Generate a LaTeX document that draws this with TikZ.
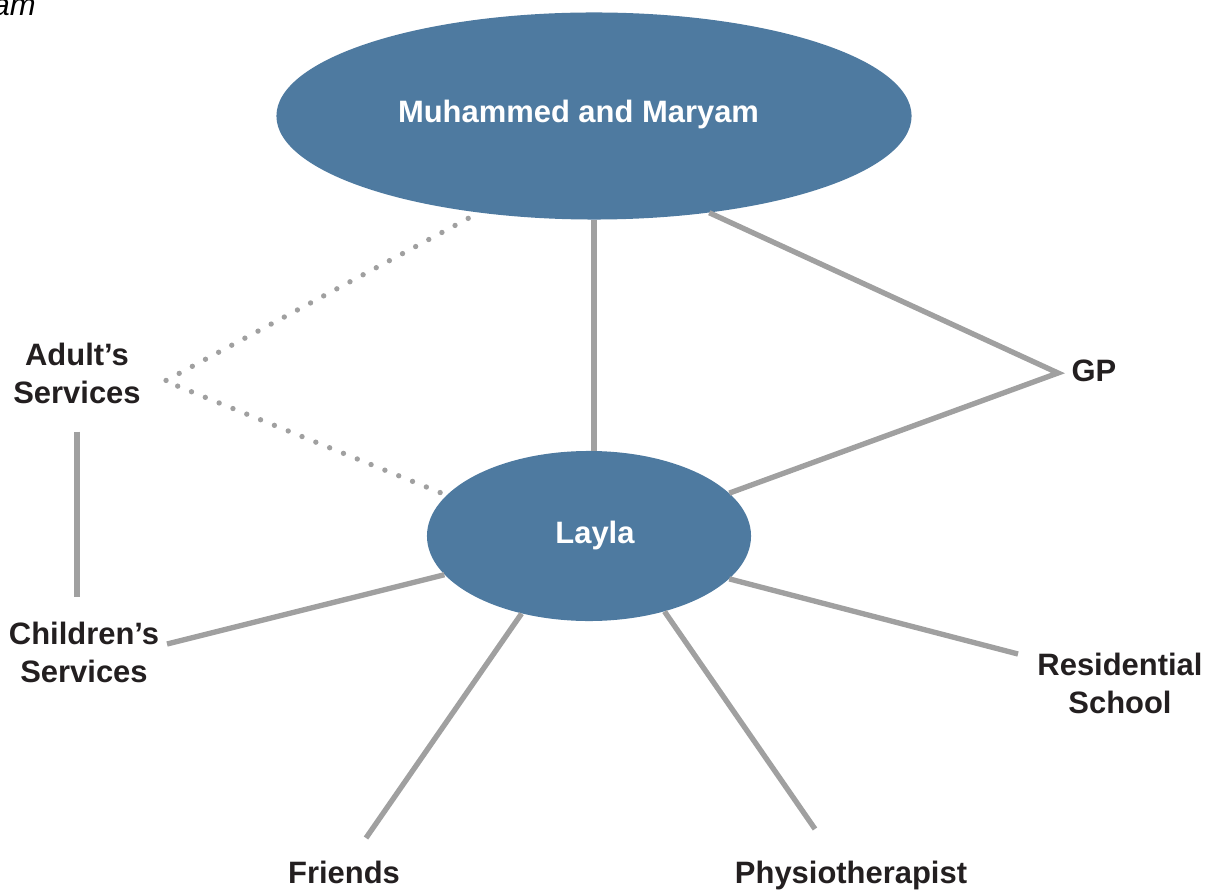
\documentclass[tikz,border=0pt]{standalone}
\usepackage{fontspec}
\setmainfont{Liberation Sans}
\definecolor{mapblue}{RGB}{78,122,160}
\definecolor{linkgray}{RGB}{160,160,160}
\definecolor{labelblack}{RGB}{35,31,32}
\usetikzlibrary{shapes.geometric,positioning}

\begin{document}
\begin{tikzpicture}[x=0.025cm, y=-0.025cm,
    person/.style={ellipse, fill=mapblue, inner sep=0pt, text=white, font=\bfseries\fontsize{22}{27}\selectfont},
    service/.style={align=center, inner sep=0pt, text=labelblack, font=\bfseries\fontsize{22}{27}\selectfont},
    link/.style={draw=linkgray, line width=3.8pt},
    loose/.style={draw=linkgray, line width=3.8pt, line cap=round, dash pattern=on 0pt off 10.6pt}]
    \useasboundingbox (0,0) rectangle (1214,891);

    % Cut-off caption
    \node[anchor=base east, inner sep=0pt, font=\itshape\fontsize{22}{27}\selectfont] (caption) at (36,16) {am};

    % Family
    \node[person, minimum width=15.875cm, minimum height=5.175cm] (parents) at (594,116) {\raisebox{7pt}{Muhammed and Maryam}\hspace*{22pt}};
    \node[person, minimum width=8.1cm, minimum height=4.25cm] (layla) at (589,536) {\hspace*{8.5pt}\raisebox{1.4pt}{Layla}};

    % People and services round Layla
    \node[service] (adults) at (77,373) {Adult’s\\Services};
    \node[service] (children) at (84,652) {Children’s\\Services};
    \node[service] (school) at (1120,683) {Residential\\School};
    \node[service, anchor=base] (gp) at (1094,382) {GP};
    \node[service, anchor=base] (friends) at (344,883) {Friends};
    \node[service, anchor=base] (physio) at (851,883) {Physiotherapist};

    % Line ends
    \coordinate (gpjoin) at (1058,373);
    \coordinate (adultjoin) at (165,381);
    \coordinate (childrenend) at (167,644);
    \coordinate (schoolend) at (1018,654);
    \coordinate (friendsend) at (366,838);
    \coordinate (physioend) at (815,829);

    % Connectors
    \draw[link] (parents.south) -- (parents.south |- layla.north);
    \draw[link] (parents.320) -- (gpjoin) -- (layla.17);
    \draw[loose, shorten <=8.5pt] (parents.220) -- (adultjoin) -- (layla.164);
    \draw[link, shorten <=20pt, shorten >=17pt] (adults.south) -- (adults.south |- children.north);
    \draw[link] (layla.195) -- (childrenend);
    \draw[link] (layla.343) -- (schoolend);
    \draw[link] (layla.229) -- (friendsend);
    \draw[link] (layla.315) -- (physioend);
\end{tikzpicture}
\end{document}
